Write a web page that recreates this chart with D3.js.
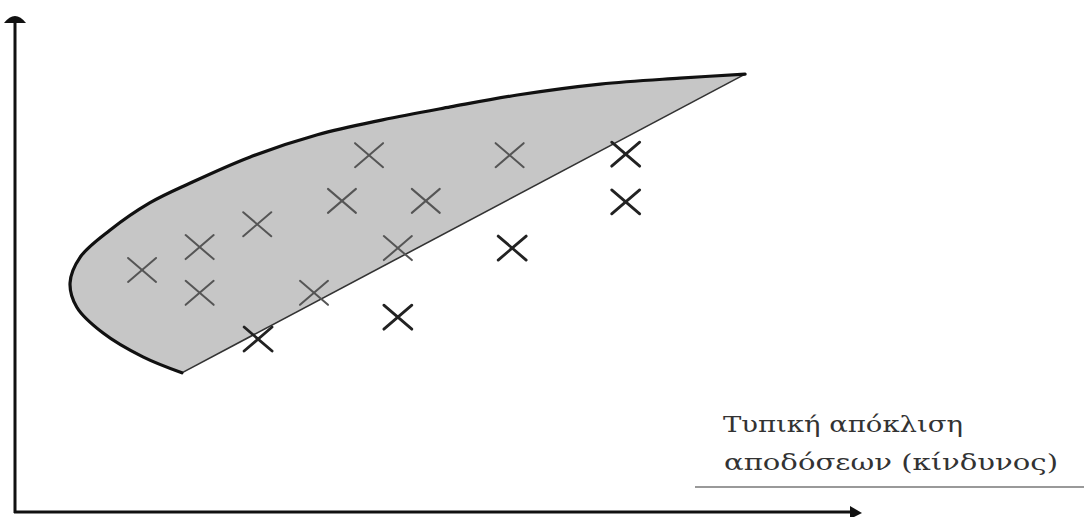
<!DOCTYPE html>
<html lang="el">
<head>
<meta charset="UTF-8">
<title>Αποτελεσματικό σύνορο</title>
<script src="https://d3js.org/d3.v7.min.js"></script>
<style>
    body { margin: 0; padding: 0; background: #fff; }
    svg { display: block; }
</style>
</head>
<body>
<svg width="1084" height="517"></svg>
<script>
    const width = 1084;
    const height = 517;

    // frontier curve (risk, return), abstract units 0-100
    const frontierRisk   = [19.7, 15.1, 10.4, 7.3, 6.5, 7.7, 11.2, 15.9, 20.7, 27.7, 35.7, 43.4, 51.4, 59.3, 69.1, 78.5, 86.2];
    const frontierReturn = [28.0, 31.2, 36.0, 41.2, 46.1, 51.3, 56.7, 62.2, 66.2, 71.4, 75.9, 78.9, 81.5, 83.9, 86.1, 87.3, 88.1];

    // individual assets
    const assetRisk   = [15.0, 21.8, 21.8, 28.6, 28.7, 35.3, 38.6, 41.8, 45.2, 48.5, 45.2, 58.4, 58.7, 72.1, 72.1];
    const assetReturn = [48.7, 53.3, 44.1, 57.9, 34.8, 44.1, 62.6, 71.8, 53.1, 62.6, 39.2, 71.8, 53.1, 72.0, 62.4];

    const axisLabel = ["Τυπική απόκλιση", "αποδόσεων (κίνδυνος)"];

    const svg = d3.select("svg");

    const x = d3.scaleLinear().domain([0, 100]).range([15, 862]);
    const y = d3.scaleLinear().domain([0, 100]).range([512, 15]);

    const frontier = frontierRisk.map((r, i) => [x(r), y(frontierReturn[i])]);

    const line = d3.line().curve(d3.curveCatmullRom.alpha(0.5));

    // shaded feasible region: curve closed back by a straight chord
    svg.append("path")
        .attr("d", line(frontier) + "Z")
        .attr("fill", "#c6c6c6")
        .attr("stroke", "none");

    // the straight lower edge
    const first = frontier[0], last = frontier[frontier.length - 1];
    svg.append("line")
        .attr("x1", first[0]).attr("y1", first[1])
        .attr("x2", last[0]).attr("y2", last[1])
        .attr("stroke", "#333")
        .attr("stroke-width", 1.6);

    // the curved frontier
    svg.append("path")
        .attr("d", line(frontier))
        .attr("fill", "none")
        .attr("stroke", "#111")
        .attr("stroke-width", 3.2)
        .attr("stroke-linecap", "round");

    // asset markers
    const polygon = frontier.slice();
    const assets = assetRisk.map((r, i) => {
        const px = x(r), py = y(assetReturn[i]);
        return { px, py, inside: d3.polygonContains(polygon, [px, py]) };
    });

    const hw = 14, hh = 12;
    const marks = svg.append("g").selectAll("g")
        .data(assets)
        .enter().append("g")
        .attr("transform", d => `translate(${d.px},${d.py})`)
        .attr("stroke", d => d.inside ? "#555" : "#222")
        .attr("stroke-width", d => d.inside ? 2 : 2.8)
        .attr("stroke-linecap", "round");
    marks.append("line").attr("x1", -hw).attr("y1", -hh).attr("x2", hw).attr("y2", hh);
    marks.append("line").attr("x1", -hw).attr("y1", hh).attr("x2", hw).attr("y2", -hh);

    // axes
    svg.append("line")
        .attr("x1", x(0)).attr("y1", y(0) + 1)
        .attr("x2", x(0)).attr("y2", y(100) + 4)
        .attr("stroke", "#111").attr("stroke-width", 3);
    svg.append("line")
        .attr("x1", x(0) - 1).attr("y1", y(0))
        .attr("x2", x(100) - 6).attr("y2", y(0))
        .attr("stroke", "#111").attr("stroke-width", 3);

    // arrow heads
    svg.append("path")
        .attr("d", `M${x(0) - 11},${y(100) + 8} Q${x(0)},${y(100) - 6} ${x(0) + 11},${y(100) + 8} Z`)
        .attr("fill", "#111");
    svg.append("path")
        .attr("d", `M${x(100) - 12},${y(0) - 6} L${x(100)},${y(0) + 1} L${x(100) - 12},${y(0) + 7} Z`)
        .attr("fill", "#111");

    // axis label
    const lab = svg.append("g");
    lab.append("text")
        .attr("x", 723).attr("y", 432)
        .attr("textLength", 240)
        .text(axisLabel[0]);
    lab.append("text")
        .attr("x", 724).attr("y", 470)
        .attr("textLength", 334)
        .text(axisLabel[1]);
    lab.selectAll("text")
        .attr("font-family", "'DejaVu Serif', 'Liberation Serif', serif")
        .attr("font-size", 22)
        .attr("lengthAdjust", "spacingAndGlyphs")
        .attr("fill", "#333");
    lab.append("line")
        .attr("x1", 695).attr("y1", 487)
        .attr("x2", 1084).attr("y2", 487)
        .attr("stroke", "#777").attr("stroke-width", 1.5);
</script>
</body>
</html>
